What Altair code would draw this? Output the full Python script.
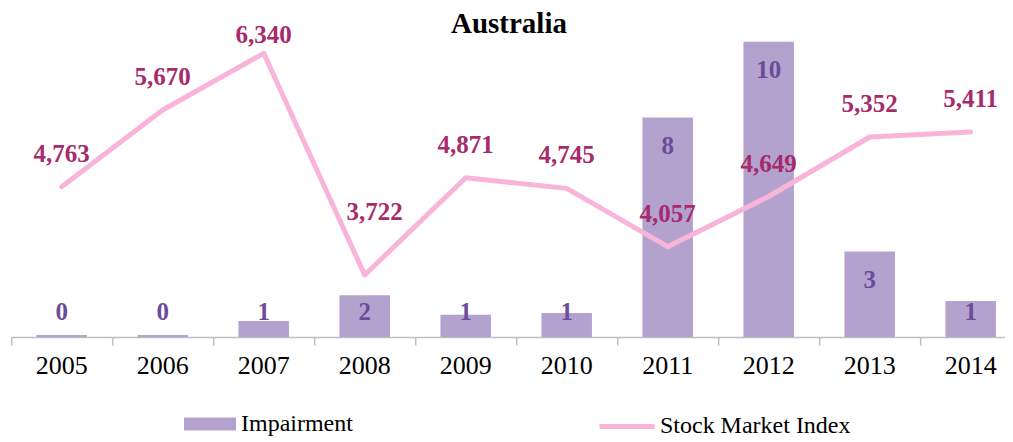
import altair as alt
import pandas as pd

years = ["2005", "2006", "2007", "2008", "2009", "2010", "2011", "2012", "2013", "2014"]
impairment = [0.07, 0.07, 0.55, 1.43, 0.76, 0.82, 7.54, 10.14, 2.94, 1.24]
impairment_labels = ["0", "0", "1", "2", "1", "1", "8", "10", "3", "1"]
index_values = [4763, 5670, 6340, 3722, 4871, 4745, 4057, 4649, 5352, 5411]

df = pd.DataFrame({
    "year": years,
    "impairment": impairment,
    "imp_label": impairment_labels,
    "index": index_values,
    "s_bar": "Impairment",
    "s_line": "Stock Market Index",
})

W, H = 1010, 329
FONT = "Liberation Serif"
BAR_C = "#B3A2CE"
BAR_T = "#6B4C9A"
LINE_C = "#F9B4DA"
LINE_T = "#A72A6B"

bar_dom = [0, 11.3]
line_dom = [2990, 6875]

x_enc = alt.X("year:N", sort=years,
              scale=alt.Scale(paddingInner=0, paddingOuter=0),
              axis=alt.Axis(title=None, bandPosition=1, tickExtra=True, labelAngle=0))

base = alt.Chart(df)

bars = base.mark_bar(width=alt.RelativeBandSize(0.5)).encode(
    x=x_enc,
    y=alt.Y("impairment:Q", scale=alt.Scale(domain=bar_dom), axis=None),
    color=alt.Color("s_bar:N", scale=alt.Scale(domain=["Impairment"], range=[BAR_C]),
                    legend=alt.Legend(title=None, orient="none", legendX=172.8, legendY=390,
                                      symbolType="M-1,-0.25L1,-0.25L1,0.25L-1,0.25Z",
                                      symbolSize=2704, symbolStrokeWidth=0, symbolOpacity=1,
                                      labelOffset=5, labelLimit=400)),
)

bar_labels = base.transform_calculate(
    label_y="max(datum.impairment - 0.98, 0.86)"
).mark_text(font=FONT, fontSize=25, fontWeight="bold", color=BAR_T, baseline="middle").encode(
    x=x_enc,
    y=alt.Y("label_y:Q", scale=alt.Scale(domain=bar_dom), axis=None),
    text="imp_label:N",
)

line = base.mark_line(strokeWidth=5, strokeCap="round", strokeJoin="round").encode(
    x=x_enc,
    y=alt.Y("index:Q", scale=alt.Scale(domain=line_dom), axis=None),
    color=alt.Color("s_line:N", scale=alt.Scale(domain=["Stock Market Index"], range=[LINE_C]),
                    legend=alt.Legend(title=None, orient="none", legendX=585.8, legendY=388.5,
                                      symbolType="stroke", symbolSize=3025,
                                      symbolStrokeWidth=5, labelOffset=3, labelLimit=400)),
)

def line_text(filt, dy, dx=0):
    return base.transform_filter(filt).mark_text(
        font=FONT, fontSize=25, fontWeight="bold", color=LINE_T, baseline="middle", dy=dy, dx=dx
    ).encode(
        x=x_enc,
        y=alt.Y("index:Q", scale=alt.Scale(domain=line_dom), axis=None),
        text=alt.Text("index:Q", format=","),
    )

lt_main = line_text("datum.year != '2007' && datum.year != '2008'", -33)
lt_2007 = line_text("datum.year == '2007'", -18)
lt_2008 = line_text("datum.year == '2008'", -63, 10)

title = alt.Chart(pd.DataFrame({"t": ["Australia"]})).mark_text(
    font=FONT, fontSize=29, fontWeight="bold", color="black", baseline="alphabetic", align="center"
).encode(x=alt.value(497.8), y=alt.value(25), text="t:N")

chart = alt.layer(bars, bar_labels, line, lt_main, lt_2007, lt_2008, title).resolve_scale(
    y="independent", color="independent"
).properties(
    width=W, height=H,
    padding={"left": 3.2, "top": 0, "right": -16.5, "bottom": 100},
    autosize=alt.AutoSizeParams(type="none"),
).configure_view(stroke=None).configure_axis(
    domainColor="#BFBFBF", tickColor="#BFBFBF", domainWidth=1.5, tickWidth=1.5, tickSize=8,
    labelFont=FONT, labelFontSize=26, labelColor="black", labelPadding=8, grid=False,
).configure_legend(
    labelFont=FONT, labelFontSize=24, labelColor="black", padding=0, rowPadding=0,
)

chart.save("out.html", embed_options={"renderer": "svg", "actions": False})
